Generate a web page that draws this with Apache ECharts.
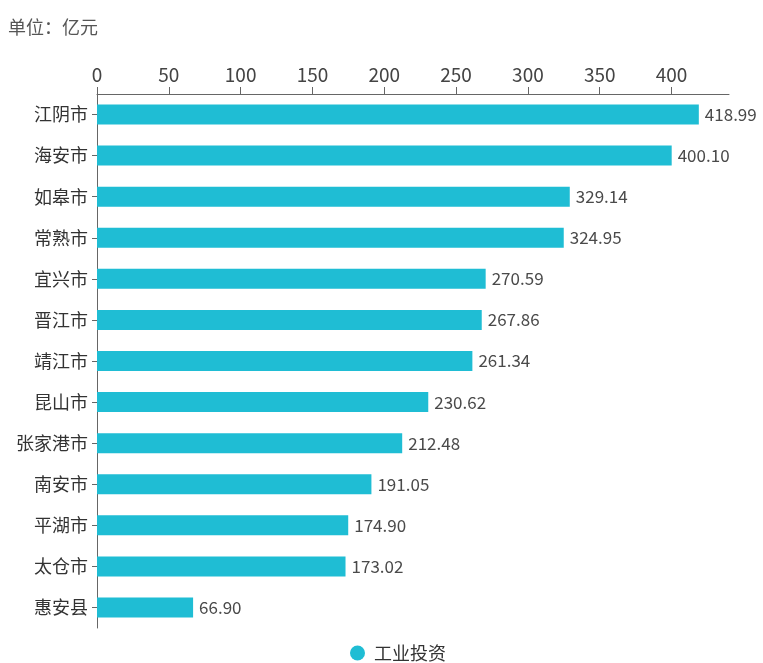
<!DOCTYPE html>
<html>
<head>
<meta charset="utf-8">
<script src="https://cdn.jsdelivr.net/npm/echarts@6/dist/echarts.min.js"></script>
<style>
html, body { margin: 0; padding: 0; background: #fff; }
#main { width: 763px; height: 663px; }
</style>
</head>
<body>
<div id="main"></div>
<script>
var cities = ['江阴市', '海安市', '如皋市', '常熟市', '宜兴市', '晋江市', '靖江市', '昆山市', '张家港市', '南安市', '平湖市', '太仓市', '惠安县'];
var investment = [418.99, 400.10, 329.14, 324.95, 270.59, 267.86, 261.34, 230.62, 212.48, 191.05, 174.90, 173.02, 66.90];
var xTicks = [0, 50, 100, 150, 200, 250, 300, 350, 400];

var myChart = echarts.init(document.getElementById('main'));
myChart.setOption({
    textStyle: { fontFamily: 'Noto Sans CJK SC' },
    title: {
        text: '单位：亿元',
        left: 3,
        top: 13,
        textStyle: { fontSize: 18, fontWeight: 'normal', color: '#555' }
    },
    legend: {
        data: ['工业投资'],
        left: 345,
        top: 639,
        icon: 'circle',
        itemWidth: 15,
        itemHeight: 15,
        itemGap: 8,
        textStyle: { fontSize: 18, color: '#333', padding: [0, 0, 0, 4] }
    },
    grid: { left: 97, right: 34, top: 94, bottom: 35, containLabel: false },
    xAxis: {
        type: 'value',
        position: 'top',
        min: 0,
        max: 440,
        interval: 50,
        axisLine: { show: true, lineStyle: { color: '#666' } },
        axisTick: { show: true, length: 7, customValues: xTicks, lineStyle: { color: '#666' } },
        splitLine: { show: false },
        axisLabel: {
            fontSize: 19,
            color: '#444',
            margin: 10,
            customValues: xTicks
        }
    },
    yAxis: {
        type: 'category',
        data: cities,
        inverse: true,
        axisLine: { show: true, lineStyle: { color: '#666' } },
        axisTick: { show: true, alignWithLabel: true, length: 5, lineStyle: { color: '#666' } },
        axisLabel: { fontSize: 18, color: '#333', margin: 9 }
    },
    series: [{
        name: '工业投资',
        type: 'bar',
        data: investment,
        barWidth: 20,
        itemStyle: { color: '#1fbdd4' },
        label: {
            show: true,
            position: 'right',
            distance: 6,
            fontSize: 17,
            color: '#4a4a4a',
            formatter: function (p) { return p.value.toFixed(2); }
        }
    }]
});
</script>
</body>
</html>
